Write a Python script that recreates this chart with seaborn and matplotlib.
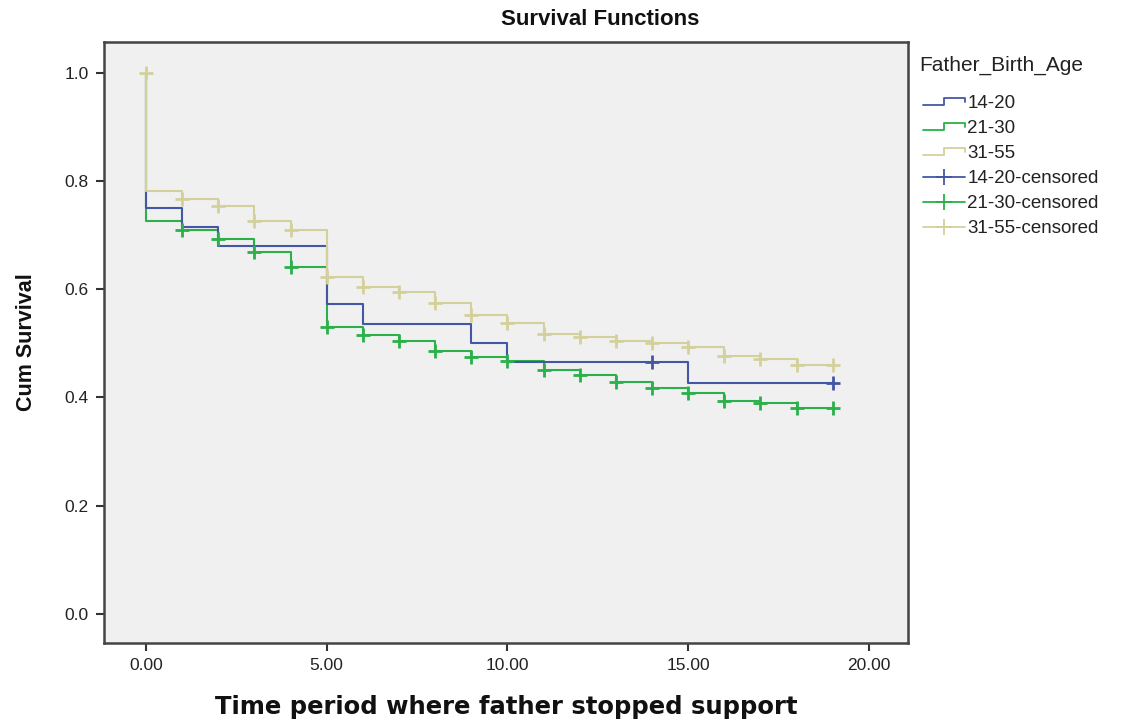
import matplotlib
matplotlib.use("Agg")
import matplotlib.pyplot as plt
import seaborn as sns
import pandas as pd
from matplotlib.lines import Line2D
from matplotlib.legend_handler import HandlerBase

# Kaplan-Meier step values (value after the step at each time)
times = [0, 0, 1, 2, 3, 4, 5, 6, 7, 8, 9, 10, 11, 12, 13, 14, 15, 16, 17, 18, 19]
surv_14_20 = [1.0, 0.750, 0.715, 0.679, 0.679, 0.679, 0.572, 0.536, 0.536, 0.536, 0.501,
              0.466, 0.466, 0.466, 0.466, 0.466, 0.426, 0.426, 0.426, 0.426, 0.426]
surv_21_30 = [1.0, 0.726, 0.709, 0.693, 0.668, 0.641, 0.530, 0.516, 0.505, 0.485, 0.474,
              0.468, 0.450, 0.442, 0.428, 0.417, 0.409, 0.394, 0.389, 0.380, 0.380]
surv_31_55 = [1.0, 0.782, 0.767, 0.753, 0.726, 0.710, 0.622, 0.605, 0.595, 0.574, 0.553,
              0.538, 0.517, 0.511, 0.505, 0.501, 0.494, 0.476, 0.471, 0.459, 0.459]

# censored marks
cens_t_14_20 = [14, 19]
cens_v_14_20 = [0.466, 0.426]
cens_t_21_30 = [1, 2, 3, 4, 5, 6, 7, 8, 9, 10, 11, 12, 13, 14, 15, 16, 17, 18, 19]
cens_v_21_30 = surv_21_30[2:]
cens_t_31_55 = [0, 1, 2, 3, 4, 5, 6, 7, 8, 9, 10, 11, 12, 13, 14, 15, 16, 17, 18, 19]
cens_v_31_55 = [1.0] + surv_31_55[2:]

groups = ["14-20", "21-30", "31-55"]
colors = {"14-20": "#4457a6", "21-30": "#2bb04a", "31-55": "#d4d09c"}

curves = pd.concat([
    pd.DataFrame({"time": times, "surv": surv_14_20, "group": "14-20"}),
    pd.DataFrame({"time": times, "surv": surv_21_30, "group": "21-30"}),
    pd.DataFrame({"time": times, "surv": surv_31_55, "group": "31-55"}),
])
cens = pd.concat([
    pd.DataFrame({"time": cens_t_14_20, "surv": cens_v_14_20, "group": "14-20"}),
    pd.DataFrame({"time": cens_t_21_30, "surv": cens_v_21_30, "group": "21-30"}),
    pd.DataFrame({"time": cens_t_31_55, "surv": cens_v_31_55, "group": "31-55"}),
])


class StepHandler(HandlerBase):
    # little step glyph like the SPSS legend
    def create_artists(self, legend, orig, xd, yd, w, h, fontsize, trans):
        lo, hi = yd + h * 0.25, yd + h * 0.8
        xs = [xd, xd + w * 0.5, xd + w * 0.5, xd + w, xd + w]
        ys = [lo, lo, hi, hi, hi - h * 0.3]
        ln = Line2D(xs, ys, color=orig.get_color(), lw=1.3, transform=trans)
        return [ln]


sns.set_style("white")
plt.rcParams["font.family"] = ["Liberation Sans", "DejaVu Sans"]

fig = plt.figure(figsize=(11.33, 7.21), dpi=100)
ax = fig.add_axes([0.0918, 0.1082, 0.7096, 0.8335])
ax.set_facecolor("#f0f0f0")

# green first, then blue, then tan on top
for g in ["21-30", "14-20", "31-55"]:
    sub = curves[curves["group"] == g]
    sns.lineplot(data=sub, x="time", y="surv", ax=ax, color=colors[g],
                 estimator=None, sort=False, drawstyle="steps-post", lw=1.5,
                 legend=False)
    sc = cens[cens["group"] == g]
    sns.scatterplot(data=sc, x="time", y="surv", ax=ax, color=colors[g],
                    marker="+", s=110, linewidth=2.0, legend=False, zorder=4)

ax.set_xlim(-1.16, 21.08)
ax.set_ylim(-0.054, 1.057)
ax.set_xticks([0, 5, 10, 15, 20])
ax.set_xticklabels(["0.00", "5.00", "10.00", "15.00", "20.00"])
ax.set_yticks([0.0, 0.2, 0.4, 0.6, 0.8, 1.0])
ax.set_yticklabels(["0.0", "0.2", "0.4", "0.6", "0.8", "1.0"])
ax.tick_params(axis="both", direction="out", length=6, width=1.5, color="#333333",
               labelsize=12.5, labelcolor="#222222", pad=5, bottom=True, left=True)
for sp in ax.spines.values():
    sp.set_color("#444444")
    sp.set_linewidth(1.8)

ax.set_xlabel("Time period where father stopped support", fontsize=17.5,
              fontweight="bold", family=["DejaVu Sans"], labelpad=16,
              color="#111111")
ax.set_ylabel("Cum Survival", fontsize=15.5, fontweight="bold",
              family=["Liberation Sans Narrow", "Liberation Sans"], labelpad=20,
              color="#111111")
fig.text(0.53, 0.973, "Survival Functions", ha="center", va="center",
         fontsize=16, fontweight="bold", color="#111111")

fig.text(0.811, 0.91, "Father_Birth_Age", ha="left", va="center",
         fontsize=15, color="#222222")
handles = [Line2D([], [], color=colors[g], lw=1.5) for g in groups]
handles += [Line2D([], [], color=colors[g], lw=1.3, marker="+", markersize=11,
                   markeredgewidth=1.3) for g in groups]
labels = groups + [g + "-censored" for g in groups]
hmap = {h: StepHandler() for h in handles[:3]}
leg = fig.legend(handles, labels, loc="upper left", handler_map=hmap,
                 bbox_to_anchor=(0.815, 0.868), frameon=False, fontsize=13.5,
                 handlelength=2.2, handletextpad=0.15, labelspacing=0.42,
                 borderaxespad=0, borderpad=0)
for t in leg.get_texts():
    t.set_color("#222222")

fig.savefig("out.png", dpi=100)
